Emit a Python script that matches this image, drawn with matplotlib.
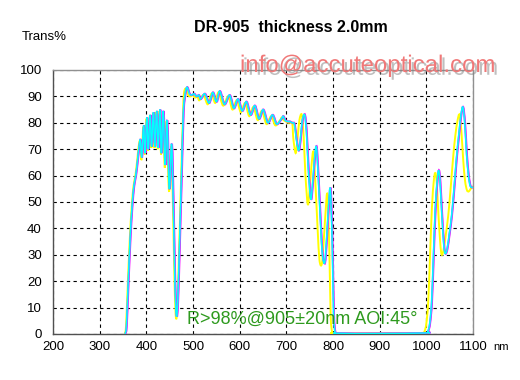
import matplotlib
matplotlib.use("Agg")
import matplotlib.pyplot as plt
import matplotlib.patheffects as pe
from matplotlib.path import Path
from matplotlib.patches import PathPatch

plt.rcParams['font.family'] = ['Liberation Sans', 'DejaVu Sans']

# ---- data ----
wl_magenta = [355, 358, 362, 366, 370, 374, 378, 382, 385, 388,
              391, 395, 398, 402, 405, 409, 412, 416, 419, 423,
              426, 430, 433, 437, 441, 445, 450, 455, 459, 462,
              465, 468, 472, 476, 480, 484, 488, 493, 498, 503,
              508, 513, 517, 526, 535, 543, 551, 558, 568, 579,
              588, 597, 606, 615, 624, 633, 642, 651, 661, 671,
              680, 690, 694, 698, 703, 708, 713, 718, 722, 727,
              731, 735, 740, 744, 748, 753, 757, 761, 765, 769,
              774, 778, 783, 787, 791, 795, 799, 802, 805, 810,
              900, 1000, 1004, 1008, 1012, 1016, 1020, 1024, 1027, 1030,
              1034, 1038, 1041, 1045, 1050, 1055, 1060, 1065, 1070, 1075,
              1079, 1083, 1087, 1091, 1095, 1100]
t_magenta = [0, 3, 20, 36, 48, 56, 60, 66, 71, 73.5,
             67, 79, 68.5, 82, 70, 83, 71, 84, 71, 84.5,
             70.5, 85, 68.5, 84.5, 64, 81, 55, 72, 45, 20,
             7, 12, 35, 60, 84, 91, 93.5, 91, 90.5, 91,
             90, 90.5, 89, 91, 87.5, 91.5, 88, 92, 87, 90.5,
             85.5, 89, 84.5, 88, 83, 86.5, 81.5, 85, 80, 83,
             79.5, 81.5, 82.5, 81, 80.5, 80.5, 80, 79.5, 74, 69.5,
             74, 81, 83, 76, 62, 51, 57, 66, 71, 60,
             42, 30, 27, 36, 48, 55, 35, 8, 1, 0.3,
             0.2, 0.4, 1, 4, 12, 30, 48, 58, 62, 58,
             45, 34, 30.5, 32, 38, 45, 55, 66, 75, 83,
             86, 80, 68, 60, 56, 55.5]

wl_cyan = [354, 357, 361, 365, 369, 373, 377, 381, 384, 387,
           390, 394, 397, 401, 404, 408, 411, 415, 418, 422,
           425, 429, 432, 436, 440, 444, 449, 454, 458, 461,
           464, 467, 471, 475, 479, 483, 487, 492, 497, 502,
           507, 512, 516, 525, 534, 542, 550, 557, 567, 578,
           587, 596, 605, 614, 623, 632, 641, 650, 660, 670,
           679, 689, 693, 697, 702, 707, 712, 717, 721, 726,
           730, 734, 739, 743, 747, 752, 756, 760, 764, 768,
           773, 777, 782, 786, 790, 794, 798, 801, 804, 809,
           899, 999, 1003, 1007, 1011, 1015, 1019, 1023, 1026, 1029,
           1033, 1037, 1040, 1044, 1049, 1054, 1059, 1064, 1069, 1074,
           1078, 1082, 1086, 1090, 1094, 1100]
t_cyan = t_magenta

wl_blue = wl_magenta
t_blue = t_magenta

wl_yellow = [353.5, 356.5, 360.5, 364.5, 368.5, 372.5, 376.5, 380.5, 383.5, 386.5,
             389.5, 393.5, 396.5, 400.5, 403.5, 407.5, 410.5, 414.5, 417.5, 421.5,
             424.5, 428.5, 431.5, 435.5, 439.5, 443.5, 448.5, 453.5, 457.5, 460.5,
             463.5, 466.5, 470.5, 474.5, 478.5,
             480.5, 484.5, 489.5, 494.5, 499.5, 504.5, 509.5, 513.5, 522.5, 531.5,
             539.5, 547.5, 554.5, 564.5, 575.5, 584.5, 593.5, 602.5, 611.5, 620.5,
             629.5, 638.5, 647.5, 657.5, 667.5, 676.5, 686.5,
             690, 694, 699, 704, 709, 713, 715, 720, 724, 728,
             733, 737, 741, 746, 750, 754, 758, 762, 767, 771,
             776, 780, 784, 788, 792, 795, 798, 803,
             900, 990,
             996, 1000, 1004, 1008, 1012, 1016, 1019, 1022, 1026, 1030,
             1033, 1037, 1042, 1047, 1052, 1057, 1062, 1067, 1071, 1075,
             1079, 1083, 1087, 1091, 1095, 1100]
t_yellow = [0, 3, 20, 36, 48, 56, 60, 66, 71, 73,
            66, 78.5, 68, 81.5, 69.5, 82.5, 70.5, 83.5, 70.5, 84,
            70, 84.5, 68, 84, 63, 80.5, 54, 71, 44, 19,
            6, 11, 34, 59, 83,
            91, 93, 90.5, 90, 90.5, 89.5, 90, 88.5, 90.5, 87,
            91, 87.5, 91.5, 86.5, 90, 85, 88.5, 84, 87.5, 82.5,
            86, 81, 84.5, 79.5, 82.5, 79, 81,
            82, 81, 80.5, 80, 80, 79.5, 74, 68.5, 74, 81,
            83, 75, 60, 49, 55, 64, 69, 58, 40, 28,
            26.5, 35, 46, 53, 33, 7, 1, 0.3,
            0.3, 0.4,
            1, 4, 12, 30, 48, 58, 61, 58, 45, 34,
            30, 32, 38, 45, 55, 66, 75, 81, 83, 77,
            66, 58, 54.5, 54, 55, 56]

x_ticks = [200, 300, 400, 500, 600, 700, 800, 900, 1000, 1100]
y_ticks = [0, 10, 20, 30, 40, 50, 60, 70, 80, 90, 100]

title = "DR-905  thickness 2.0mm"
note = "R>98%@905\u00b120nm AOI:45\u00b0"
watermark = "info@accuteoptical.com"


def smooth_path(xs, ys, k=0.16):
    """Bezier path through the read points (Catmull-Rom style tangents)."""
    n = len(xs)
    verts = [(xs[0], ys[0])]
    codes = [Path.MOVETO]
    for i in range(n - 1):
        x0, y0 = xs[max(i - 1, 0)], ys[max(i - 1, 0)]
        x1, y1 = xs[i], ys[i]
        x2, y2 = xs[i + 1], ys[i + 1]
        x3, y3 = xs[min(i + 2, n - 1)], ys[min(i + 2, n - 1)]
        c1 = (x1 + (x2 - x0) * k, y1 + (y2 - y0) * k)
        c2 = (x2 - (x3 - x1) * k, y2 - (y3 - y1) * k)
        verts += [c1, c2, (x2, y2)]
        codes += [Path.CURVE4, Path.CURVE4, Path.CURVE4]
    return Path(verts, codes)


# ---- figure ----
fig = plt.figure(figsize=(5.2, 3.8), dpi=100)
ax = fig.add_axes([53/520, 1-334/380, 420/520, 264/380])

series = [(wl_yellow, t_yellow, '#FFFF00', 1.4),
          (wl_magenta, t_magenta, '#FF00FF', 1.5),
          (wl_blue, t_blue, '#8080FF', 1.0),
          (wl_cyan, t_cyan, '#00FFFF', 1.0)]
for z, (xs, ys, c, lw) in enumerate(series):
    ax.add_patch(PathPatch(smooth_path(xs, ys), facecolor='none',
                           edgecolor=c, lw=lw, zorder=3 + z))

ax.set_xlim(200, 1100)
ax.set_ylim(0, 100)
ax.set_xticks(x_ticks)
ax.set_yticks(y_ticks)
ax.tick_params(length=0, labelsize=9.5, colors='black')
ax.tick_params(axis='y', pad=8)
ax.tick_params(axis='x', pad=5)
ax.grid(True, color='black', linestyle=(0, (3, 3)), linewidth=0.8, zorder=1)
for s in ['top', 'right']:
    ax.spines[s].set_color('#909090')
for s in ['bottom', 'left']:
    ax.spines[s].set_color('#505050')
for s in ax.spines.values():
    s.set_linewidth(1.0)

ax.text(0.319, 0.057, note, transform=ax.transAxes, color='#2E9A1E',
        fontsize=13, va='center', ha='left', zorder=8)

fig.text(291/520, 1-28/380, title, ha='center', va='center',
         fontsize=11.5, fontweight='bold')
fig.text(22/520, 1-37/380, "Trans%", ha='left', va='center', fontsize=9.5)
fig.text(493/520, 1-347/380, "nm", ha='left', va='center', fontsize=8)

fig.text(240/520, 1-72/380, watermark, ha='left', va='baseline',
         fontsize=17.3, color='#F07878', zorder=10,
         path_effects=[pe.withSimplePatchShadow(offset=(2, -2),
                                                shadow_rgbFace='#808080',
                                                alpha=0.5)])

fig.savefig("out.png", dpi=100)
